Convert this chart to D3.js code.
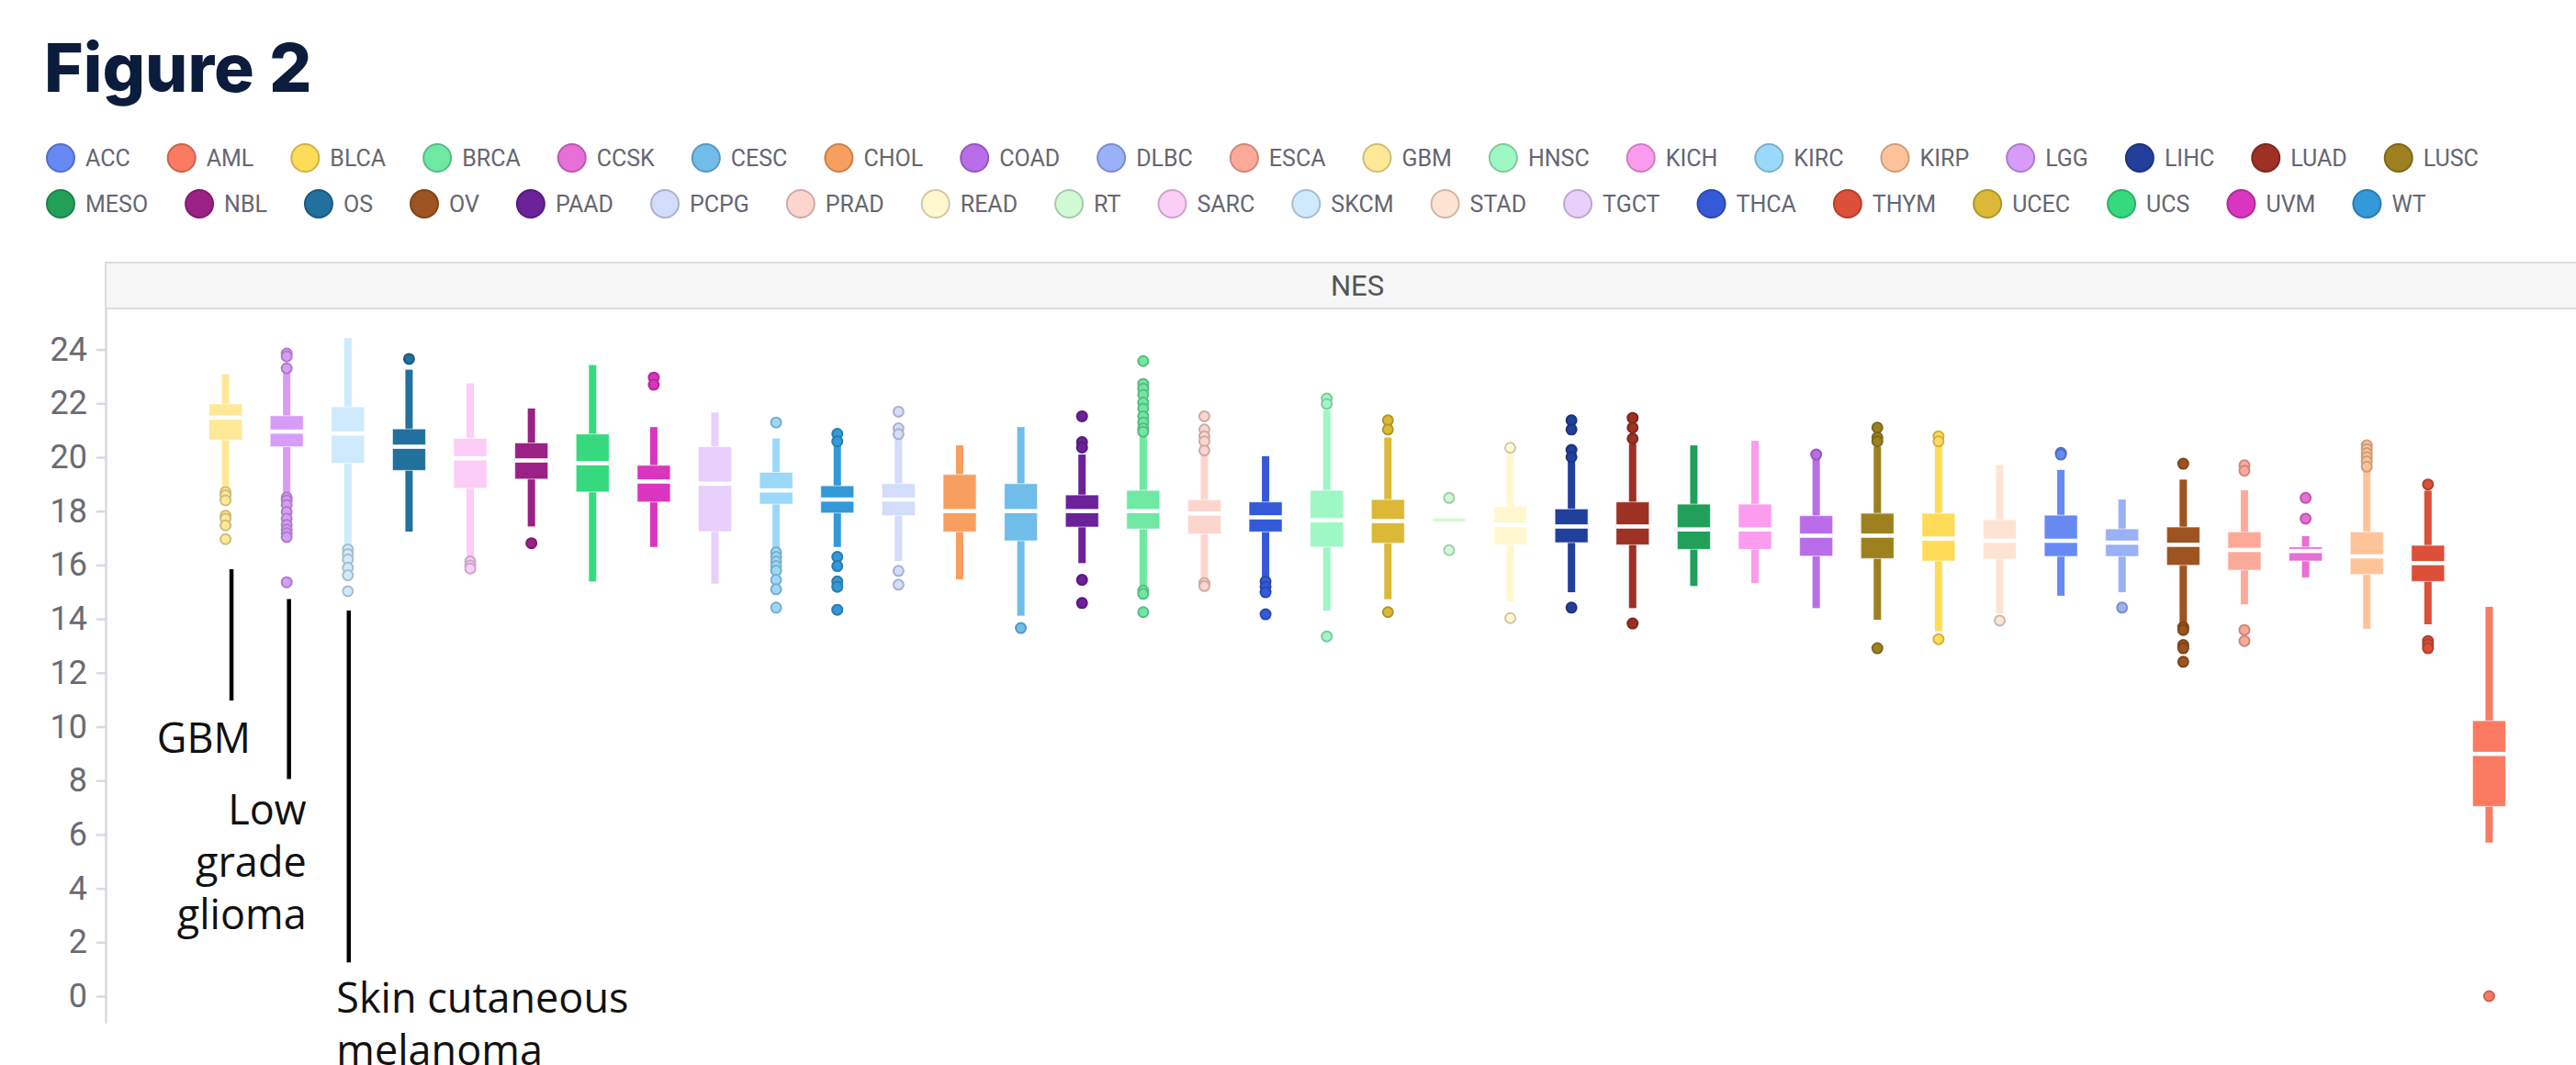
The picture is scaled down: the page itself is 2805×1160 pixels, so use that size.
<!DOCTYPE html>
<html>
<head>
<meta charset="utf-8">
<script src="https://cdn.jsdelivr.net/npm/d3@7/dist/d3.min.js"></script>
<style>
  body { margin: 0; background: #fff; }
  svg { display: block; }
</style>
</head>
<body>
<div id="chart"></div>
<script>
var w = 2805,
    h = 1160;

// legend (alphabetical) and colours
var legendNames = ["ACC", "AML", "BLCA", "BRCA", "CCSK", "CESC", "CHOL", "COAD", "DLBC", "ESCA", "GBM", "HNSC", "KICH", "KIRC", "KIRP", "LGG", "LIHC", "LUAD", "LUSC",
    "MESO", "NBL", "OS", "OV", "PAAD", "PCPG", "PRAD", "READ", "RT", "SARC", "SKCM", "STAD", "TGCT", "THCA", "THYM", "UCEC", "UCS", "UVM", "WT"];
var legendColors = ["#6689f4", "#fa7b62", "#ffdc57", "#6fe8a4", "#e86ed8", "#70bde9", "#f89f5f", "#b96de9", "#9ab0f7", "#fda99a", "#ffe996", "#9ef8c6", "#fb9cee", "#9ad9f9", "#ffc39a", "#d79bf8", "#233f9c", "#9c3124", "#9d8120",
    "#22a05a", "#9c2186", "#22709d", "#9d5420", "#6b2199", "#d2dcfb", "#fdd5cf", "#fff8cf", "#d0fad3", "#fccdf7", "#cfeafc", "#ffe3d2", "#e8cffc", "#345ad8", "#dc4f38", "#dbb937", "#36d97e", "#d935bf", "#3499d8"];
var legendRow1 = 19;

// boxes, in plotted order
var cancers = ["GBM", "LGG", "SKCM", "OS", "SARC", "NBL", "UCS", "UVM", "TGCT", "KIRC", "WT", "PCPG", "CHOL", "CESC", "PAAD", "BRCA", "PRAD", "THCA", "HNSC",
    "UCEC", "RT", "READ", "LIHC", "LUAD", "MESO", "KICH", "COAD", "LUSC", "BLCA", "STAD", "ACC", "DLBC", "OV", "ESCA", "CCSK", "KIRP", "THYM", "AML"];
var whiskerLow = [18.85, 18.57, 16.64, 17.24, 16.24, 17.43, 15.39, 16.67, 15.31, 16.52, 16.67, 16.15, 15.47, 14.12, 16.07, 15.1, 15.45, 15.45, 14.31,
    14.73, 17.6, 14.65, 14.99, 14.4, 15.22, 15.33, 14.4, 13.97, 13.54, 14.2, 14.86, 14.99, 13.8, 14.54, 15.54, 13.63, 13.8, 5.7];
var q1 = [20.64, 20.39, 19.78, 19.51, 18.85, 19.19, 18.71, 18.34, 17.24, 18.26, 17.93, 17.83, 17.23, 16.9, 17.41, 17.34, 17.15, 17.23, 16.67,
    16.81, 17.6, 16.75, 16.83, 16.75, 16.58, 16.58, 16.33, 16.24, 16.15, 16.22, 16.32, 16.32, 15.99, 15.81, 16.15, 15.65, 15.39, 7.04];
var medians = [21.47, 20.95, 20.88, 20.39, 19.96, 19.88, 19.78, 19.1, 19.02, 18.77, 18.43, 18.43, 18.0, 18.0, 18.0, 18.0, 17.91, 17.77, 17.66,
    17.63, 17.66, 17.49, 17.43, 17.43, 17.32, 17.32, 17.09, 17.09, 16.98, 16.9, 16.9, 16.83, 16.75, 16.56, 16.52, 16.32, 16.07, 8.99];
var q3 = [21.98, 21.54, 21.87, 21.05, 20.7, 20.53, 20.86, 19.7, 20.39, 19.44, 18.94, 19.02, 19.36, 19.02, 18.6, 18.77, 18.42, 18.34, 18.77,
    18.43, 17.74, 18.17, 18.08, 18.34, 18.26, 18.26, 17.83, 17.92, 17.92, 17.68, 17.85, 17.34, 17.41, 17.23, 16.67, 17.23, 16.73, 10.22];
var whiskerHigh = [23.08, 23.22, 24.42, 23.25, 22.74, 21.81, 23.42, 21.12, 21.66, 20.7, 20.56, 20.73, 20.44, 21.12, 20.1, 20.9, 20.1, 20.04, 21.75,
    20.73, 17.74, 20.22, 19.93, 20.5, 20.44, 20.61, 19.99, 20.39, 20.44, 19.7, 19.53, 18.43, 19.17, 18.77, 17.07, 19.59, 18.76, 14.45];
var outliers = [
    [18.71, 18.59, 18.4, 17.83, 17.72, 17.47, 16.96],
    [23.85, 23.74, 23.3, 18.51, 18.4, 18.23, 17.97, 17.72, 17.49, 17.32, 17.18, 17.04, 15.36],
    [16.58, 16.41, 16.21, 15.9, 15.62, 15.03],
    [23.65],
    [16.13, 15.98, 15.87],
    [16.81],
    [],
    [22.96, 22.69],
    [],
    [21.29, 16.47, 16.3, 16.13, 15.96, 15.79, 15.45, 15.1, 14.42],
    [20.87, 20.59, 16.3, 15.96, 15.39, 15.19, 14.34],
    [21.69, 21.07, 20.86, 15.78, 15.27],
    [],
    [13.66],
    [21.52, 20.56, 20.36, 15.45, 14.59],
    [23.57, 22.72, 22.55, 22.32, 22.03, 21.81, 21.52, 21.29, 21.07, 20.95, 15.05, 14.93, 14.25],
    [21.52, 21.03, 20.78, 20.59, 20.25, 15.33, 15.22],
    [15.39, 15.2, 14.99, 14.17],
    [22.18, 21.98, 13.35],
    [21.37, 21.03, 14.25],
    [18.49, 16.55],
    [20.35, 14.03],
    [21.37, 21.03, 20.27, 20.01, 14.42],
    [21.46, 21.1, 20.69, 13.83],
    [],
    [],
    [20.1],
    [21.1, 20.73, 20.59, 12.91],
    [20.78, 20.59, 13.25],
    [13.94],
    [20.16, 20.1],
    [14.42],
    [19.76, 13.69, 13.59, 13.03, 12.91, 12.41],
    [19.7, 19.5, 13.59, 13.18],
    [18.49, 17.72],
    [20.44, 20.3, 20.15, 20.0, 19.85, 19.65],
    [18.99, 13.18, 13.05, 12.91],
    [0]
];
var yTicks = [0, 2, 4, 6, 8, 10, 12, 14, 16, 18, 20, 22, 24];

// call-out labels
var notes = [
    { cancer: "GBM", from: 15.84, to: 10.97, dx: 6.5, lines: ["GBM"], base: 9.03, tx: 27.5, anchor: "end" },
    { cancer: "LGG", from: 14.74, to: 8.06, dx: 2.5, lines: ["Low", "grade", "glioma"], base: 6.36, tx: 21.5, anchor: "end" },
    { cancer: "SKCM", from: 14.31, to: 1.25, dx: 1, lines: ["Skin cutaneous", "melanoma"], base: -0.61, tx: -12.5, anchor: "start" }
];

var color = d3.scaleOrdinal().domain(legendNames).range(legendColors);
function edge(c) { return d3.color(c).darker(0.6).formatHex(); }

var svg = d3.select("#chart").append("svg")
    .attr("width", w)
    .attr("height", h);

// title
svg.append("text")
    .attr("x", 48)
    .attr("y", 100)
    .style("font-family", "Inter, 'Noto Sans', sans-serif")
    .style("font-weight", 800)
    .style("font-size", "73px")
    .style("fill", "#0c1c3d")
    .text("Figure 2");

///////////////// legend ////////////////
var legend = svg.append("g");
var lx = 66;
legendNames.forEach(function(name, i) {
    if (i == legendRow1) lx = 66;
    var ly = i < legendRow1 ? 172 : 222;
    legend.append("circle")
        .attr("cx", lx)
        .attr("cy", ly)
        .attr("r", 15)
        .style("fill", color(name))
        .style("stroke", edge(color(name)))
        .style("stroke-width", 2);
    var t = legend.append("text")
        .attr("x", lx + 27)
        .attr("y", ly)
        .attr("dy", "0.36em")
        .style("font-family", "Roboto, sans-serif")
        .style("font-size", "25px")
        .style("fill", "#666670")
        .text(name);
    lx = lx + 27 + t.node().getComputedTextLength() + 56;
});

///////////////// scales ////////////////
var x = d3.scalePoint().domain(cancers).range([115, 2841]).padding(1.96);
var y = d3.scaleLinear().domain([-1, 25.5]).range([1114.35, 336.6]);

// facet strip
svg.append("rect")
    .attr("x", 115)
    .attr("y", 286)
    .attr("width", 2841 - 115)
    .attr("height", 50)
    .style("fill", "#f6f6f6")
    .style("stroke", "#dcdce1")
    .style("stroke-width", 2);
svg.append("text")
    .attr("x", (115 + 2841) / 2)
    .attr("y", 311)
    .attr("dy", "0.36em")
    .attr("text-anchor", "middle")
    .style("font-family", "Roboto, sans-serif")
    .style("font-size", "31px")
    .style("fill", "#555")
    .text("NES");

// y axis
var yAxis = svg.append("g")
    .attr("transform", "translate(115,0)")
    .call(d3.axisLeft(y).tickValues(yTicks).tickSize(10).tickSizeOuter(0).tickPadding(10));
yAxis.select(".domain").style("stroke", "#d9d9e0").style("stroke-width", 2.5);
yAxis.selectAll(".tick line").style("stroke", "#d9d9e0").style("stroke-width", 2.5);
yAxis.selectAll(".tick text")
    .style("font-family", "Roboto, sans-serif")
    .style("font-size", "36px")
    .style("fill", "#6b6b73");

///////////////// boxes ////////////////
var boxes = svg.selectAll(".box")
    .data(cancers)
    .enter().append("g")
    .attr("class", "box")
    .attr("transform", function(d) { return "translate(" + x(d) + ",0)"; });

boxes.append("rect")
    .attr("x", -4)
    .attr("width", 8)
    .attr("y", function(d, i) { return y(whiskerHigh[i]); })
    .attr("height", function(d, i) { return y(whiskerLow[i]) - y(whiskerHigh[i]); })
    .style("fill", function(d) { return color(d); });

boxes.append("rect")
    .attr("x", -18)
    .attr("width", 36)
    .attr("y", function(d, i) { return y(q3[i]); })
    .attr("height", function(d, i) { return y(q1[i]) - y(q3[i]); })
    .style("fill", function(d) { return color(d); })
    .style("stroke", "#fff")
    .style("stroke-opacity", 0.6)
    .style("stroke-width", 1);

// median gap (skip when the box has collapsed)
boxes.filter(function(d, i) { return y(q1[i]) - y(q3[i]) > 10; })
    .append("rect")
    .attr("x", -18)
    .attr("width", 36)
    .attr("y", function(d) { return y(medians[cancers.indexOf(d)]) - 2.3; })
    .attr("height", 4.6)
    .style("fill", "#fff");

boxes.selectAll(".outlier")
    .data(function(d, i) { return outliers[i].map(function(v) { return { c: d, v: v }; }); })
    .enter().append("circle")
    .attr("class", "outlier")
    .attr("cx", 0)
    .attr("cy", function(p) { return y(p.v); })
    .attr("r", 5.5)
    .style("fill", function(p) { return color(p.c); })
    .style("stroke", function(p) { return edge(color(p.c)); })
    .style("stroke-width", 2);

///////////////// call-outs ////////////////
notes.forEach(function(n) {
    var cx = x(n.cancer);
    svg.append("line")
        .attr("x1", cx + n.dx)
        .attr("x2", cx + n.dx)
        .attr("y1", y(n.from))
        .attr("y2", y(n.to))
        .style("stroke", "#000")
        .style("stroke-width", 4.5);
    n.lines.forEach(function(s, k) {
        svg.append("text")
            .attr("x", cx + n.tx)
            .attr("y", y(n.base) + k * 57)
            .attr("text-anchor", n.anchor)
            .style("font-family", "'Open Sans', sans-serif")
            .style("font-size", "45px")
            .style("fill", "#111")
            .text(s);
    });
});
</script>
</body>
</html>
